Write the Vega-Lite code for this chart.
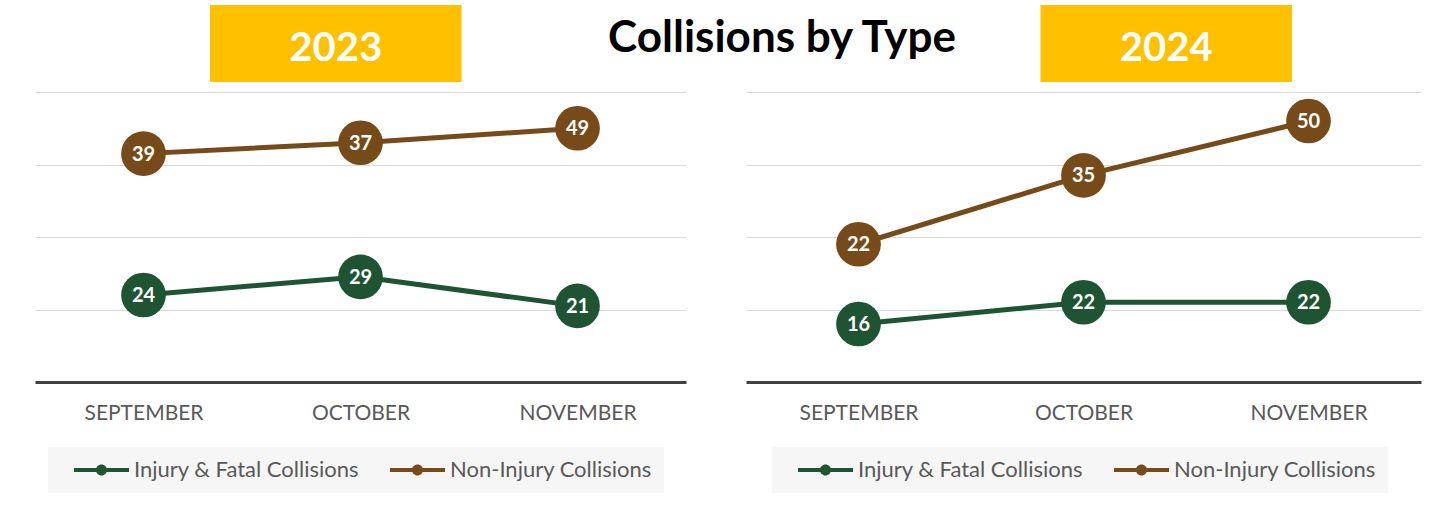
{
  "$schema": "https://vega.github.io/schema/vega-lite/v6.json",
  "padding": {"left": 35, "top": 5, "right": 5, "bottom": 5},
  "background": "white",
  "datasets": {
    "collisions": [
      {"year": "2023", "month": "SEPTEMBER", "series": "Injury & Fatal Collisions", "value": 24},
      {"year": "2023", "month": "OCTOBER", "series": "Injury & Fatal Collisions", "value": 29},
      {"year": "2023", "month": "NOVEMBER", "series": "Injury & Fatal Collisions", "value": 21},
      {"year": "2023", "month": "SEPTEMBER", "series": "Non-Injury Collisions", "value": 39},
      {"year": "2023", "month": "OCTOBER", "series": "Non-Injury Collisions", "value": 37},
      {"year": "2023", "month": "NOVEMBER", "series": "Non-Injury Collisions", "value": 49},
      {"year": "2024", "month": "SEPTEMBER", "series": "Injury & Fatal Collisions", "value": 16},
      {"year": "2024", "month": "OCTOBER", "series": "Injury & Fatal Collisions", "value": 22},
      {"year": "2024", "month": "NOVEMBER", "series": "Injury & Fatal Collisions", "value": 22},
      {"year": "2024", "month": "SEPTEMBER", "series": "Non-Injury Collisions", "value": 22},
      {"year": "2024", "month": "OCTOBER", "series": "Non-Injury Collisions", "value": 35},
      {"year": "2024", "month": "NOVEMBER", "series": "Non-Injury Collisions", "value": 50}
    ],
    "years": [{"item": "2023"}, {"item": "2024"}],
    "heading": [{"item": "Collisions by Type"}]
  },
  "spacing": 10,
  "vconcat": [
    {
      "width": 1386,
      "height": 77,
      "encoding": {
        "x": {"field": "item", "type": "nominal", "scale": {"type": "band", "domain": ["2023", "Collisions by Type", "2024"], "paddingInner": 0.3943, "paddingOuter": 0.366, "align": 0.5757}, "axis": null}
      },
      "layer": [
        {"data": {"name": "years"}, "mark": {"type": "bar", "color": "#FFC000"}},
        {"data": {"name": "years"}, "mark": {"type": "text", "color": "white", "fontSize": 40, "font": "Lato", "fontWeight": "bold", "dy": 5}, "encoding": {"text": {"field": "item", "type": "nominal"}}},
        {"data": {"name": "heading"}, "mark": {"type": "text", "color": "black", "fontSize": 44, "font": "Lato", "fontWeight": "bold", "dx": 31, "dy": -5}, "encoding": {"text": {"field": "item", "type": "nominal"}}}
      ]
    },
    {
      "spacing": 60,
      "resolve": {"scale": {"color": "independent"}, "legend": {"color": "independent"}},
      "hconcat": [
        {
          "width": 651,
          "height": 290,
          "data": {"name": "collisions"},
          "transform": [
            {"filter": "datum.year == '2023'"},
            {"stack": "value", "groupby": ["month"], "sort": [{"field": "series", "order": "ascending"}], "as": ["y0", "y1"]}
          ],
          "encoding": {
            "x": {"field": "month", "type": "ordinal", "sort": ["SEPTEMBER", "OCTOBER", "NOVEMBER"], "axis": {"title": null, "labelAngle": 0, "ticks": false, "domainColor": "#404040", "domainWidth": 3, "labelFontSize": 21, "labelColor": "#595959", "labelPadding": 20, "grid": false, "labelFont": "Lato"}},
            "y": {"field": "y1", "type": "quantitative", "scale": {"domain": [0, 80], "nice": false}, "axis": {"title": null, "labels": false, "ticks": false, "domain": false, "grid": true, "gridColor": "#d9d9d9", "gridWidth": 1.2, "values": [20, 40, 60, 80]}},
            "color": {"field": "series", "type": "nominal", "scale": {"domain": ["Injury & Fatal Collisions", "Non-Injury Collisions"], "range": ["#1f5432", "#764a19"]}, "legend": {"title": null, "orient": "none", "legendX": 13, "legendY": 355, "direction": "horizontal", "symbolType": "M-1,-0.18H4V0.18H-1Z M1,0A0.5,0.5,0,1,1,2,0A0.5,0.5,0,1,1,1,0Z", "symbolSize": 484, "symbolStrokeWidth": 0, "symbolOpacity": 1, "symbolOffset": 14, "labelFontSize": 22, "labelColor": "#595959", "labelFont": "Lato", "labelLimit": 400, "columnPadding": 16, "fillColor": "#f6f6f6", "padding": 12, "labelOffset": 38}}
          },
          "layer": [
            {"mark": {"type": "line", "strokeWidth": 5}},
            {"mark": {"type": "circle", "size": 2000, "opacity": 1}},
            {"mark": {"type": "text", "font": "Lato", "fontWeight": "bold", "fontSize": 20, "dy": 1}, "encoding": {"text": {"field": "value", "type": "quantitative"}, "color": {"value": "white"}}}
          ]
        },
        {
          "width": 675,
          "height": 290,
          "data": {"name": "collisions"},
          "transform": [
            {"filter": "datum.year == '2024'"},
            {"stack": "value", "groupby": ["month"], "sort": [{"field": "series", "order": "ascending"}], "as": ["y0", "y1"]}
          ],
          "encoding": {
            "x": {"field": "month", "type": "ordinal", "sort": ["SEPTEMBER", "OCTOBER", "NOVEMBER"], "axis": {"title": null, "labelAngle": 0, "ticks": false, "domainColor": "#404040", "domainWidth": 3, "labelFontSize": 21, "labelColor": "#595959", "labelPadding": 20, "grid": false, "labelFont": "Lato"}},
            "y": {"field": "y1", "type": "quantitative", "scale": {"domain": [0, 80], "nice": false}, "axis": {"title": null, "labels": false, "ticks": false, "domain": false, "grid": true, "gridColor": "#d9d9d9", "gridWidth": 1.2, "values": [20, 40, 60, 80]}},
            "color": {"field": "series", "type": "nominal", "scale": {"domain": ["Injury & Fatal Collisions", "Non-Injury Collisions"], "range": ["#1f5432", "#764a19"]}, "legend": {"title": null, "orient": "none", "legendX": 26, "legendY": 355, "direction": "horizontal", "symbolType": "M-1,-0.18H4V0.18H-1Z M1,0A0.5,0.5,0,1,1,2,0A0.5,0.5,0,1,1,1,0Z", "symbolSize": 484, "symbolStrokeWidth": 0, "symbolOpacity": 1, "symbolOffset": 14, "labelFontSize": 22, "labelColor": "#595959", "labelFont": "Lato", "labelLimit": 400, "columnPadding": 16, "fillColor": "#f6f6f6", "padding": 12, "labelOffset": 38}}
          },
          "layer": [
            {"mark": {"type": "line", "strokeWidth": 5}},
            {"mark": {"type": "circle", "size": 2000, "opacity": 1}},
            {"mark": {"type": "text", "font": "Lato", "fontWeight": "bold", "fontSize": 20, "dy": 1}, "encoding": {"text": {"field": "value", "type": "quantitative"}, "color": {"value": "white"}}}
          ]
        }
      ]
    }
  ],
  "config": {
    "view": {"stroke": null},
    "font": "Lato"
  }
}
